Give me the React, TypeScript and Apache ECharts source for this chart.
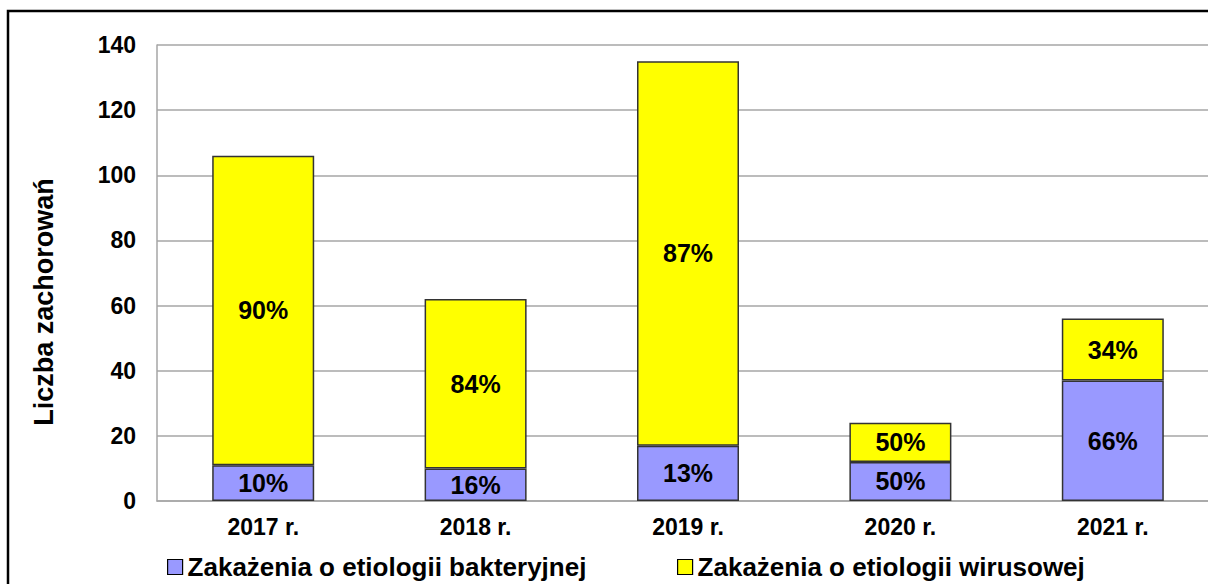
import React, { useEffect, useRef } from "react";
import * as echarts from "echarts";

const categories = ["2017 r.", "2018 r.", "2019 r.", "2020 r.", "2021 r."];
const bacterial = [11, 10, 17, 12, 37];
const viral = [95, 52, 118, 12, 19];
const seriesNames = ["Zakażenia o etiologii bakteryjnej", "Zakażenia o etiologii wirusowej"];
const yAxisTitle = "Liczba zachorowań";
const yMin = 0;
const yMax = 140;
const yStep = 20;

const FONT = "'Liberation Sans', Arial, sans-serif";

export default function App() {
  const ref = useRef<HTMLDivElement>(null);
  useEffect(() => {
    if (!ref.current) return;
    const chart = echarts.init(ref.current, undefined, { renderer: "svg" });
    const totals = bacterial.map((b, i) => b + viral[i]);
    const pct = (arr: number[]) => (p: any) =>
      Math.round((arr[p.dataIndex] / totals[p.dataIndex]) * 100) + "%";
    const labelStyle = {
      show: true,
      position: "inside",
      fontFamily: FONT,
      fontWeight: "bold",
      fontSize: 25,
      color: "#000",
    };
    const legendText = { fontFamily: FONT, fontWeight: "bold", fontSize: 26, color: "#000", lineHeight: 26 };
    chart.setOption({
      animation: false,
      backgroundColor: "#fff",
      textStyle: { fontFamily: FONT },
      grid: { left: 157, top: 45, width: 1062, height: 456, outerBoundsMode: "none" },
      legend: [
        {
          data: [seriesNames[0]],
          left: 167,
          top: 554,
          padding: 0,
          itemWidth: 15,
          itemHeight: 15,
          itemGap: 5,
          icon: "rect",
          itemStyle: { borderColor: "#000", borderWidth: 1.2 },
          textStyle: legendText,
        },
        {
          data: [seriesNames[1]],
          left: 677,
          top: 554,
          padding: 0,
          itemWidth: 15,
          itemHeight: 15,
          itemGap: 5,
          icon: "rect",
          itemStyle: { borderColor: "#000", borderWidth: 1.2 },
          textStyle: legendText,
        },
      ],
      xAxis: {
        type: "category",
        data: categories,
        axisLine: { show: true, lineStyle: { color: "#a6a6a6", width: 1.5 } },
        axisTick: { show: false },
        axisLabel: {
          margin: 14,
          fontFamily: FONT,
          fontWeight: "bold",
          fontSize: 23,
          color: "#000",
        },
      },
      yAxis: {
        type: "value",
        min: yMin,
        max: yMax,
        interval: yStep,
        axisLine: { show: true, lineStyle: { color: "#a6a6a6", width: 1.5 } },
        axisTick: { show: false },
        splitLine: { show: true, lineStyle: { color: "#a6a6a6", width: 1.5 } },
        axisLabel: {
          margin: 21,
          fontFamily: FONT,
          fontWeight: "bold",
          fontSize: 23,
          color: "#000",
        },
      },
      graphic: [
        {
          type: "rect",
          shape: { x: 8, y: 11, width: 1400, height: 800 },
          style: { fill: "none", stroke: "#000", lineWidth: 2.5 },
          silent: true,
        },
        {
          type: "text",
          x: 44,
          y: 302,
          rotation: Math.PI / 2,
          style: {
            text: yAxisTitle,
            fontFamily: FONT,
            fontWeight: "bold",
            fontSize: 27,
            fill: "#000",
            align: "center",
            verticalAlign: "middle",
          },
        },
      ],
      series: [
        {
          name: seriesNames[0],
          type: "bar",
          stack: "total",
          barWidth: 102,
          data: bacterial,
          itemStyle: { color: "#9999FF", borderColor: "#333", borderWidth: 1.5 },
          label: { ...labelStyle, formatter: pct(bacterial) },
        },
        {
          name: seriesNames[1],
          type: "bar",
          stack: "total",
          barWidth: 102,
          data: viral,
          itemStyle: { color: "#FFFF00", borderColor: "#333", borderWidth: 1.5 },
          label: { ...labelStyle, formatter: pct(viral) },
        },
      ],
    });
    return () => chart.dispose();
  }, []);
  return (
    <div
      ref={ref}
      style={{ position: "fixed", left: 0, top: 0, width: 1208, height: 584 }}
    />
  );
}
